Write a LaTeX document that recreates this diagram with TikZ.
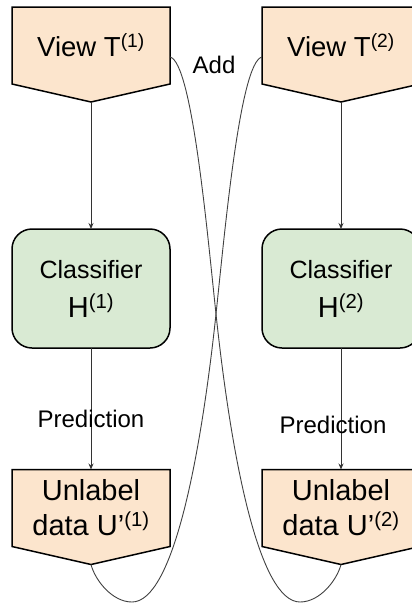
\documentclass[tikz,border=0pt]{standalone}
\usepackage{fontspec}
\setmainfont{Liberation Sans}
\usetikzlibrary{arrows.meta,backgrounds}
\definecolor{viewpeach}{RGB}{252,229,205}
\definecolor{clfgreen}{RGB}{217,234,211}

\tikzset{
  viewbox/.style={minimum width=158pt, minimum height=77pt, inner sep=0pt, outer sep=0pt, align=center},
  clfbox/.style={draw, line width=1.5pt, fill=clfgreen, rounded corners=20pt, minimum width=158pt, minimum height=119pt, outer sep=0pt, align=center, font=\fontsize{25}{39}\selectfont},
  flow/.style={draw=black!80, line width=0.9pt, -{Stealth[length=6pt,width=5pt]}},
  swap/.style={draw=black!75, line width=0.9pt},
  lbl/.style={font=\fontsize{24}{29}\selectfont}
}

\begin{document}
\begin{tikzpicture}[x=1pt,y=-1pt]
    \useasboundingbox (0,0) rectangle (412,603);

    % Views
    \node[viewbox, font=\fontsize{27.5}{35}\selectfont] (v1) at (91,45.5) {View T\textsuperscript{(1)}};
    \node[viewbox, font=\fontsize{27.5}{35}\selectfont] (v2) at (341,45.5) {View T\textsuperscript{(2)}};

    % Classifiers
    \node[clfbox] (c1) at (91,288.5) {Classifier\\{\fontsize{29}{39}\selectfont H\textsuperscript{(1)}}};
    \node[clfbox] (c2) at (341,288.5) {Classifier\\{\fontsize{29}{39}\selectfont H\textsuperscript{(2)}}};

    % Unlabel data
    \node[viewbox, font=\fontsize{29}{35}\selectfont] (u1) at (91,508) {Unlabel\\data U'\textsuperscript{(1)}};
    \node[viewbox, font=\fontsize{29}{35}\selectfont] (u2) at (341,508) {Unlabel\\data U'\textsuperscript{(2)}};

    % pentagon outlines
    \begin{scope}[on background layer]
    \foreach \n in {v1,v2,u1,u2} {
        \draw[line width=1.5pt, fill=viewpeach] (\n.north west) -- (\n.north east) -- (\n.south east)
            -- ([yshift=-18pt]\n.south) coordinate (\n-tip) -- (\n.south west) -- cycle;
    }
    \end{scope}

    % arrows
    \draw[flow] (v1-tip) -- (c1.north);
    \draw[flow] (v2-tip) -- (c2.north);
    \draw[flow] (c1.south) -- node[lbl, pos=0.58] (p1) {Prediction} (u1.north);
    \draw[flow] (c2.south) -- node[lbl, pos=0.63, xshift=-8pt] (p2) {Prediction} (u2.north);

    \node[lbl] (add) at (214,65) {Add};

    % cross-over
    \draw[swap] (u1-tip) .. controls (95,580) and (112,602) .. (132,602)
        .. controls (172,602) and (200,464) .. (216,314)
        .. controls (225,230) and (240,62) .. ([yshift=-11.5pt]v2.west);
    \draw[swap] (u2-tip) .. controls (337,580) and (320,602) .. (300,602)
        .. controls (260,602) and (232,464) .. (216,314)
        .. controls (207,230) and (192,62) .. ([yshift=-11.5pt]v1.east);
\end{tikzpicture}
\end{document}
